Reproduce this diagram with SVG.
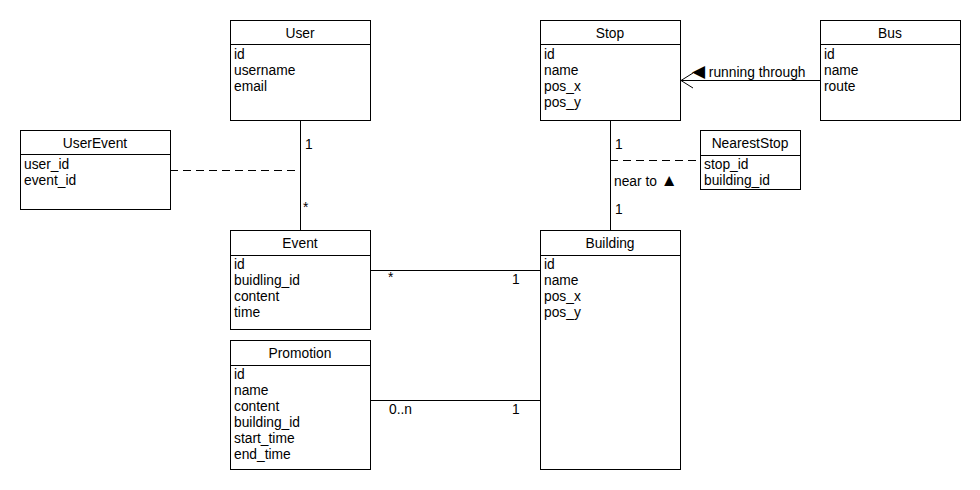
<svg xmlns="http://www.w3.org/2000/svg" width="980" height="490" viewBox="0 0 980 490">
<style>
.box{fill:#fff;stroke:#000;stroke-width:1}
.t{font-family:"Liberation Sans",Arial,sans-serif;font-size:13.8px;fill:#000}
.h{text-anchor:middle}
.ln{stroke:#000;stroke-width:1;fill:none}
.dash{stroke:#000;stroke-width:1;fill:none;stroke-dasharray:8,5}
</style>
<rect width="980" height="490" fill="#fff"/>
<g id="connectors">
<line class="ln" x1="300.5" y1="120" x2="300.5" y2="230"/>
<text class="t" x="305" y="149">1</text>
<text class="t" x="303" y="212">*</text>
<line class="dash" x1="170" y1="170.5" x2="300" y2="170.5"/>
<line class="ln" x1="610.5" y1="120" x2="610.5" y2="230"/>
<text class="t" x="615" y="149">1</text>
<text class="t" x="614" y="186">near to <tspan font-size="17px">▲</tspan></text>
<text class="t" x="615" y="214">1</text>
<line class="dash" x1="610" y1="160.5" x2="700" y2="160.5"/>
<line class="ln" x1="820" y1="80.5" x2="681" y2="80.5"/>
<polyline class="ln" points="693,73 681,80.5 693,88"/>
<text class="t" x="692" y="77"><tspan font-size="17px">◀</tspan> running through</text>
<line class="ln" x1="370" y1="270.5" x2="540" y2="270.5"/>
<text class="t" x="388" y="282">*</text>
<text class="t" x="512" y="284">1</text>
<line class="ln" x1="370" y1="400.5" x2="540" y2="400.5"/>
<text class="t" x="389" y="414">0..n</text>
<text class="t" x="512" y="414">1</text>
</g>
<g id="User">
<rect class="box" x="230.5" y="20.5" width="140" height="100"/>
<line class="ln" x1="230" y1="44.5" x2="370" y2="44.5"/>
<text class="t h" x="300" y="38">User</text>
<text class="t" x="234" y="59">id</text>
<text class="t" x="234" y="75">username</text>
<text class="t" x="234" y="91">email</text>
</g>
<g id="Stop">
<rect class="box" x="540.5" y="20.5" width="140" height="100"/>
<line class="ln" x1="540" y1="44.5" x2="680" y2="44.5"/>
<text class="t h" x="610" y="38">Stop</text>
<text class="t" x="544" y="59">id</text>
<text class="t" x="544" y="75">name</text>
<text class="t" x="544" y="91">pos_x</text>
<text class="t" x="544" y="107">pos_y</text>
</g>
<g id="Bus">
<rect class="box" x="820.5" y="20.5" width="140" height="100"/>
<line class="ln" x1="820" y1="44.5" x2="960" y2="44.5"/>
<text class="t h" x="890" y="38">Bus</text>
<text class="t" x="824" y="59">id</text>
<text class="t" x="824" y="75">name</text>
<text class="t" x="824" y="91">route</text>
</g>
<g id="UserEvent">
<rect class="box" x="20.5" y="130.5" width="150" height="79"/>
<line class="ln" x1="20" y1="154.5" x2="170" y2="154.5"/>
<text class="t h" x="95" y="148">UserEvent</text>
<text class="t" x="24" y="169">user_id</text>
<text class="t" x="24" y="185">event_id</text>
</g>
<g id="NearestStop">
<rect class="box" x="700.5" y="130.5" width="100" height="59"/>
<line class="ln" x1="700" y1="155.5" x2="800" y2="155.5"/>
<text class="t h" x="750" y="148">NearestStop</text>
<text class="t" x="704" y="169">stop_id</text>
<text class="t" x="704" y="185">building_id</text>
</g>
<g id="Event">
<rect class="box" x="230.5" y="230.5" width="140" height="99"/>
<line class="ln" x1="230" y1="255.5" x2="370" y2="255.5"/>
<text class="t h" x="300" y="248">Event</text>
<text class="t" x="234" y="269">id</text>
<text class="t" x="234" y="285">buidling_id</text>
<text class="t" x="234" y="301">content</text>
<text class="t" x="234" y="317">time</text>
</g>
<g id="Building">
<rect class="box" x="540.5" y="230.5" width="140" height="239"/>
<line class="ln" x1="540" y1="255.5" x2="680" y2="255.5"/>
<text class="t h" x="610" y="248">Building</text>
<text class="t" x="544" y="269">id</text>
<text class="t" x="544" y="285">name</text>
<text class="t" x="544" y="301">pos_x</text>
<text class="t" x="544" y="317">pos_y</text>
</g>
<g id="Promotion">
<rect class="box" x="230.5" y="340.5" width="140" height="129"/>
<line class="ln" x1="230" y1="365.5" x2="370" y2="365.5"/>
<text class="t h" x="300" y="358">Promotion</text>
<text class="t" x="234" y="379">id</text>
<text class="t" x="234" y="395">name</text>
<text class="t" x="234" y="411">content</text>
<text class="t" x="234" y="427">building_id</text>
<text class="t" x="234" y="443">start_time</text>
<text class="t" x="234" y="459">end_time</text>
</g>
</svg>
